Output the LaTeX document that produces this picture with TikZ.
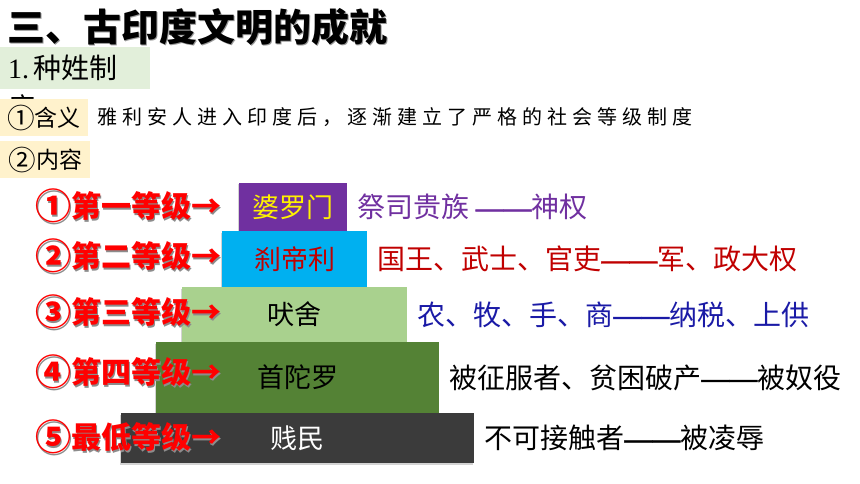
\documentclass[tikz,border=0pt]{standalone}
\usepackage{fontspec}
\setmainfont{Liberation Serif}
\newfontfamily\cjk{Noto Sans CJK SC}
\newfontfamily\dashfont{Liberation Sans}
\newcommand\dashes{{\dashfont\addfontfeature{FakeBold=1.5}——}}
\newcommand\circnum[1]{\raisebox{-0.06em}{\scalebox{1.2}{#1}}}
\usetikzlibrary{positioning}
\usetikzlibrary{shadows}
\definecolor{headgreen}{HTML}{E2EFDA}
\definecolor{tagorange}{HTML}{FFF2CC}
\definecolor{brahmincol}{HTML}{7030A0}
\definecolor{kshatcol}{HTML}{00B0F0}
\definecolor{vaishcol}{HTML}{A9D18E}
\definecolor{shudcol}{HTML}{548235}
\definecolor{dalitcol}{HTML}{3B3B3B}
\definecolor{darkred}{HTML}{C00000}
\definecolor{navyblue}{HTML}{1A1AA6}
\begin{document}
\begin{tikzpicture}[x=1pt,y=-1pt,
		tier/.style={inner sep=0pt, drop shadow={opacity=0.35, shadow xshift=-1.5pt, shadow yshift=-1.5pt},
			font=\cjk\fontsize{27}{27}\selectfont},
		desc/.style={inner sep=0pt, anchor=west, right=10pt of #1,
			font=\cjk\fontsize{28}{28}\selectfont},
		tag/.style={fill=tagorange, inner sep=0pt, anchor=north west,
			minimum height=37pt, font=\cjk\fontsize{23}{23}\selectfont},
		level/.style={inner sep=0pt, anchor=west, text=red,
			font=\cjk\bfseries\fontsize{30}{30}\selectfont}]
		\useasboundingbox (0,0) rectangle (860,484);
		% heading
		\node[inner sep=0pt, anchor=west, text=black!40] at (8.5,28.5)
			{\cjk\bfseries\fontsize{38}{38}\selectfont 三、古印度文明的成就};
		\node[inner sep=0pt, anchor=west] (title) at (7,27)
			{\cjk\bfseries\fontsize{38}{38}\selectfont 三、古印度文明的成就};
		% section 1
		\node[fill=headgreen, inner sep=0pt, anchor=north west, minimum width=150pt,
			minimum height=42pt] (caste) at (0,47) {};
		\node[inner sep=0pt, anchor=west, font=\fontsize{28}{28}\selectfont] (castetxt) at (8,68)
			{1.\,{\cjk 种姓制}};
		\node[inner sep=0pt, anchor=west, font=\cjk\fontsize{27}{27}\selectfont] (castedu) at (8,107) {度};
		\node[tag, minimum width=88pt] (meaning) at (0,99) {\circnum{①}含义};
		\node[tag, minimum width=90pt] (content) at (0,141) {\circnum{②}内容};
		\node[inner sep=0pt, anchor=west,
			font=\cjk\addfontfeature{LetterSpace=25}\fontsize{20}{20}\selectfont] (deftxt)
			at (97,117.5) {雅利安人进入印度后，逐渐建立了严格的社会等级制度};
		% pyramid
		\node[tier, fill=brahmincol, text=yellow, minimum width=108pt, minimum height=48pt]
			(brahmin) at (293,207) {婆罗门};
		\node[tier, fill=kshatcol, text=darkred, minimum width=145pt, minimum height=56pt]
			(kshat) at (294.5,259) {刹帝利};
		\node[tier, fill=vaishcol, text=black, minimum width=225pt, minimum height=55pt]
			(vaish) at (294.5,314.5) {吠舍};
		\node[tier, fill=shudcol, text=black, minimum width=283pt, minimum height=71pt]
			(shud) at (297.5,377.5) {首陀罗};
		\node[tier, fill=dalitcol, text=white, minimum width=353pt, minimum height=50pt]
			(dalit) at (297.5,438) {贱民};
		% rights and duties
		\node[desc=brahmin, text=brahmincol] (brahmindesc) {祭司贵族 \dashes 神权};
		\node[desc=kshat, text=darkred] (kshatdesc) {国王、武士、官吏\dashes 军、政大权};
		\node[desc=vaish, text=navyblue] (vaishdesc) {农、牧、手、商\dashes 纳税、上供};
		\node[desc=shud, text=black] (shuddesc) {被征服者、贫困破产\dashes 被奴役};
		\node[desc=dalit, text=black] (dalitdesc) {不可接触者\dashes 被凌辱};
		% levels
		\foreach \name/\y/\num/\txt in {lv1/206/①/第一等级, lv2/256/②/第二等级, lv3/312/③/第三等级,
			lv4/372/④/第四等级, lv5/437/⑤/最低等级} {
			\node[level, text=black!45] at (36.5,\y+1.5) {\circnum{\num}\txt→};
			\node[level] (\name) at (35,\y) {\circnum{\num}\txt→};
		}
\end{tikzpicture}
\end{document}
